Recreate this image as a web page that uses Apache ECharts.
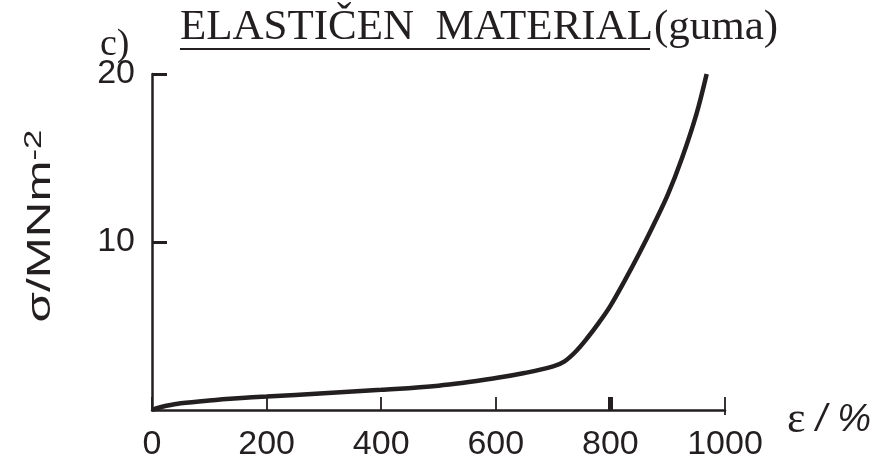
<!DOCTYPE html>
<html><head><meta charset="utf-8">
<script src="https://cdn.jsdelivr.net/npm/echarts@6/dist/echarts.min.js"></script>
<style>html,body{margin:0;padding:0;background:#fff}#c{width:887px;height:468px}</style>
</head><body><div id="c"></div>
<script>
// ---- data ----
const strain = [0, 10, 25, 50, 100, 150, 200, 300, 400, 500, 600, 650, 700, 720, 740, 760, 780, 800, 825, 850, 875, 900, 925, 950, 968];
const stress = [0, 0.12, 0.25, 0.4, 0.57, 0.7, 0.8, 1.0, 1.2, 1.45, 1.9, 2.2, 2.6, 2.9, 3.5, 4.3, 5.2, 6.2, 7.7, 9.3, 11.0, 12.8, 15.0, 17.6, 20.0];
const xTickLabels = [0, 200, 400, 600, 800, 1000];
const yTickLabels = [10, 20];
const titleMain = 'ELASTIČEN  MATERIAL';
const titleSub = '(guma)';
const panelLabel = 'c)';
const yName = ['σ/MNm', '-2'];
const xName = ['ε', ' / %'];

const ink = '#231f20';
const chart = echarts.init(document.getElementById('c'), null, {renderer: 'canvas'});
const pts = strain.map((s, i) => [s, stress[i]]);

const baseX = {
  type: 'value', min: 0, max: 1000, interval: 200, position: 'bottom',
  splitLine: {show: false}
};

chart.setOption({
  animation: false,
  backgroundColor: '#fff',
  grid: {left: 152, right: 162, top: 74, bottom: 58},
  xAxis: [
    Object.assign({}, baseX, {
      axisLine: {show: true, lineStyle: {color: ink, width: 2.5}},
      axisTick: {show: true, inside: true, length: 13, lineStyle: {color: ink, width: 1.8}},
      axisLabel: {show: true, color: ink, fontFamily: 'Liberation Sans', fontSize: 34, margin: 18,
        customValues: xTickLabels, formatter: v => String(v)},
      name: '{e|' + xName[0] + '}{p|' + xName[1] + '}',
      nameLocation: 'end', nameGap: 62,
      nameTextStyle: {padding: [20, 0, 0, 0],
        rich: {
          e: {fontFamily: 'Liberation Serif', fontSize: 44, color: ink},
          p: {fontFamily: 'Liberation Sans', fontStyle: 'italic', fontSize: 38, color: ink}
        }}
    }),
    Object.assign({}, baseX, {
      axisLine: {show: false}, axisLabel: {show: false},
      axisTick: {show: true, inside: true, length: 13, customValues: [800], lineStyle: {color: ink, width: 5}}
    }),
    Object.assign({}, baseX, {
      axisLine: {show: false}, axisLabel: {show: false},
      axisTick: {show: true, inside: false, length: 5, customValues: [1000], lineStyle: {color: ink, width: 1.8}}
    })
  ],
  yAxis: {
    type: 'value', min: 0, max: 20, interval: 10,
    splitLine: {show: false},
    axisLine: {show: true, lineStyle: {color: ink, width: 2.5}},
    axisTick: {show: true, inside: true, length: 15, customValues: yTickLabels, lineStyle: {color: ink, width: 3}},
    axisLabel: {show: true, color: ink, fontFamily: 'Liberation Sans', fontSize: 34, margin: 17,
      customValues: yTickLabels}
  },
  series: [{
    type: 'line', data: pts, xAxisIndex: 0, showSymbol: false, symbol: 'none',
    smooth: 0.35,
    lineStyle: {color: ink, width: 4.5}
  }],
  graphic: [
    {type: 'text', left: 100, top: 26, style: {text: panelLabel, font: '38px "Liberation Serif"', fill: ink}},
    {type: 'text', left: 180, top: 6, style: {text: titleMain, font: '43px "Liberation Serif"', fill: ink}},
    {type: 'text', left: 654, top: 6, style: {text: titleSub, font: '43px "Liberation Serif"', fill: ink}},
    {type: 'line', shape: {x1: 180, y1: 49, x2: 650, y2: 49}, style: {stroke: ink, lineWidth: 2}},
    {type: 'text', x: 60, y: 226, rotation: Math.PI / 2, scaleX: 1.45,
      style: {text: '{m|' + yName[0] + '}{s|' + yName[1] + '}', fill: ink, align: 'center', verticalAlign: 'bottom',
        rich: {
          m: {fontFamily: 'Liberation Sans', fontSize: 34, fill: ink, color: ink},
          s: {fontFamily: 'Liberation Sans', fontSize: 24, fill: ink, color: ink, verticalAlign: 'top', padding: [0, 0, 14, 0]}
        }}}
  ]
});
</script></body></html>
